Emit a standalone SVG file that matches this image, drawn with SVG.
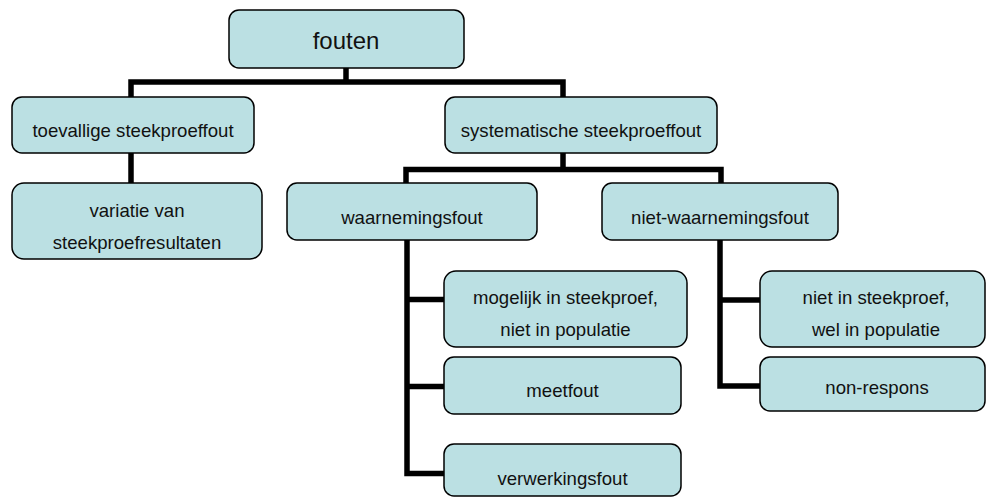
<svg xmlns="http://www.w3.org/2000/svg" width="987" height="497" viewBox="0 0 987 497">
<style>
.box{fill:#BBE0E3;stroke:#000;stroke-width:1.5}
.t{font-family:"Liberation Sans",Arial,sans-serif;font-size:18.6px;fill:#111;text-anchor:middle}
.big{font-size:24px}
.c{fill:none;stroke:#000;stroke-width:5.5;stroke-linejoin:miter}
</style>
<rect width="987" height="497" fill="#fff"/>
<g id="connectors">
<path class="c" d="M346 68V82M131 97V82H563V97"/>
<path class="c" d="M131 153V183"/>
<path class="c" d="M563 153V169.5M406 183V169.5H721V183"/>
<path class="c" d="M407 240V473.5H444M407 299.5H444M407 386.5H444"/>
<path class="c" d="M720 240V386H760M720 300H760"/>
</g>
<g id="fouten"><rect class="box" x="229" y="10" width="235" height="58" rx="10"/><text class="t big" x="346" y="49">fouten</text></g>
<g id="toevallige"><rect class="box" x="12" y="97" width="242" height="56" rx="10"/><text class="t" x="133" y="137">toevallige steekproeffout</text></g>
<g id="systematische"><rect class="box" x="445" y="97" width="272" height="56" rx="10"/><text class="t" x="581" y="137">systematische steekproeffout</text></g>
<g id="variatie"><rect class="box" x="12" y="183" width="250" height="76" rx="12"/><text class="t" x="137" y="217">variatie van</text><text class="t" x="137" y="249">steekproefresultaten</text></g>
<g id="waarnemingsfout"><rect class="box" x="287" y="183" width="250" height="57" rx="10"/><text class="t" x="412" y="224">waarnemingsfout</text></g>
<g id="niet-waarnemingsfout"><rect class="box" x="602" y="183" width="236" height="57" rx="10"/><text class="t" x="720" y="224">niet-waarnemingsfout</text></g>
<g id="mogelijk"><rect class="box" x="444" y="271" width="243" height="76" rx="12"/><text class="t" x="565.5" y="304">mogelijk in steekproef,</text><text class="t" x="565.5" y="336">niet in populatie</text></g>
<g id="meetfout"><rect class="box" x="444" y="357" width="237" height="57" rx="10"/><text class="t" x="562.5" y="397">meetfout</text></g>
<g id="verwerkingsfout"><rect class="box" x="444" y="444" width="237" height="52" rx="10"/><text class="t" x="562.5" y="485">verwerkingsfout</text></g>
<g id="niet-in-steekproef"><rect class="box" x="760" y="271" width="225" height="76" rx="12"/><text class="t" x="876" y="304">niet in steekproef,</text><text class="t" x="876" y="336">wel in populatie</text></g>
<g id="non-respons"><rect class="box" x="760" y="357" width="225" height="54" rx="10"/><text class="t" x="877" y="394">non-respons</text></g>
</svg>
